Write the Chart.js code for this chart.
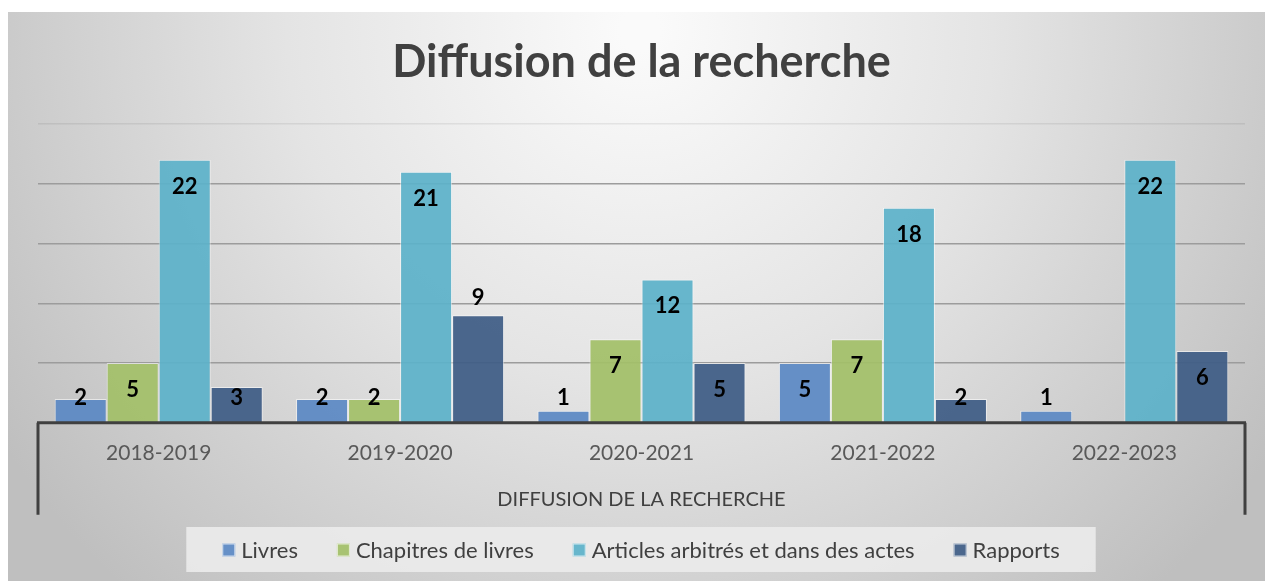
<!DOCTYPE html>
<html>
<head>
<meta charset="utf-8">
<script src="https://cdn.jsdelivr.net/npm/chart.js@4/dist/chart.umd.min.js"></script>
<style>
  html, body { margin: 0; padding: 0; background: #fff; }
  #wrap { width: 1265px; height: 581px; }
</style>
</head>
<body>
<div id="wrap"><canvas id="chart" width="1265" height="581"></canvas></div>
<script>
const years = ['2018-2019', '2019-2020', '2020-2021', '2021-2022', '2022-2023'];
const livres = [2, 2, 1, 5, 1];
const chapitres = [5, 2, 7, 7, 0];
const articles = [22, 21, 12, 18, 22];
const rapports = [3, 9, 5, 2, 6];
const seriesNames = ['Livres', 'Chapitres de livres', 'Articles arbitrés et dans des actes', 'Rapports'];
const colors = ['rgba(91,137,196,0.93)', 'rgba(163,192,104,0.93)', 'rgba(92,177,201,0.93)', 'rgba(62,92,133,0.93)'];

const FONT = 'Lato, "Open Sans", sans-serif';

// fond gris en dégradé + cadre
const bgPlugin = {
    id: 'bg',
    beforeDraw(chart) {
        const ctx = chart.ctx;
        ctx.save();
        ctx.fillStyle = '#fff';
        ctx.fillRect(0, 0, chart.width, chart.height);
        const g = ctx.createRadialGradient(640, 30, 20, 640, 30, 760);
        g.addColorStop(0, '#fafafa');
        g.addColorStop(0.45, '#e4e4e4');
        g.addColorStop(1, '#bfbfbf');
        ctx.fillStyle = g;
        ctx.fillRect(8, 12, chart.width - 8, chart.height - 12);
        ctx.restore();
    }
};

// axe des catégories à deux niveaux
const axisPlugin = {
    id: 'axisFrame',
    afterDatasetsDraw(chart) {
        const ctx = chart.ctx;
        const a = chart.chartArea;
        ctx.save();
        ctx.strokeStyle = '#404040';
        ctx.lineWidth = 3;
        ctx.beginPath();
        ctx.moveTo(a.left - 1, a.bottom);
        ctx.lineTo(a.right + 1, a.bottom);
        ctx.moveTo(a.left, a.bottom);
        ctx.lineTo(a.left, a.bottom + 92);
        ctx.moveTo(a.right, a.bottom);
        ctx.lineTo(a.right, a.bottom + 92);
        ctx.stroke();
        ctx.restore();
    }
};

// étiquettes de valeurs
const labelPlugin = {
    id: 'valLabels',
    afterDatasetsDraw(chart) {
        const ctx = chart.ctx;
        ctx.save();
        ctx.font = 'bold 22px ' + FONT;
        ctx.fillStyle = '#000';
        ctx.textAlign = 'center';
        ctx.textBaseline = 'middle';
        chart.data.datasets.forEach((ds, i) => {
            const meta = chart.getDatasetMeta(i);
            meta.data.forEach((bar, j) => {
                const v = ds.data[j];
                if (!v) return;
                let y;
                if (ds.labelOutside && ds.labelOutside[j]) {
                    y = bar.y - 17;
                } else {
                    y = Math.min(bar.y + 27, bar.base - 24);
                }
                ctx.fillText(String(v), bar.x, y);
            });
        });
        ctx.restore();
    }
};

// légende dans un cadre clair
const legendPlugin = {
    id: 'boxLegend',
    afterDraw(chart) {
        const ctx = chart.ctx;
        ctx.save();
        ctx.font = '22px ' + FONT;
        const box = 13, gapText = 6, gapItem = 39;
        const items = chart.data.datasets.map(ds => ({
            text: ds.label, color: ds.backgroundColor, w: ctx.measureText(ds.label).width
        }));
        let total = 0;
        items.forEach((it, i) => { total += box + gapText + it.w + (i < items.length - 1 ? gapItem : 0); });
        const cx = 641, cy = 550;
        const bx = cx - total / 2 - 36;
        ctx.fillStyle = 'rgba(235,235,235,0.9)';
        ctx.fillRect(bx, 527, total + 72, 45);
        let x = cx - total / 2;
        ctx.textBaseline = 'middle';
        items.forEach(it => {
            ctx.fillStyle = it.color;
            ctx.fillRect(x, cy - box / 2, box, box);
            ctx.strokeStyle = 'rgba(255,255,255,0.7)';
            ctx.lineWidth = 1;
            ctx.strokeRect(x + 0.5, cy - box / 2 + 0.5, box - 1, box - 1);
            x += box + gapText;
            ctx.fillStyle = '#404040';
            ctx.fillText(it.text, x, cy + 1);
            x += it.w + gapItem;
        });
        ctx.restore();
    }
};

const seriesData = [livres, chapitres, articles, rapports];

new Chart(document.getElementById('chart'), {
    type: 'bar',
    data: {
        labels: years,
        datasets: seriesData.map((d, i) => ({
            label: seriesNames[i],
            data: d,
            backgroundColor: colors[i],
            borderColor: 'rgba(255,255,255,0.55)',
            borderWidth: 1,
            categoryPercentage: 0.862,
            barPercentage: 1,
            labelOutside: i === 3 ? [false, true, false, false, false] : null
        }))
    },
    options: {
        responsive: false,
        animation: false,
        layout: { padding: { left: 38, right: 20, bottom: 69 } },
        plugins: {
            legend: { display: false },
            tooltip: { enabled: false },
            title: {
                display: true,
                text: 'Diffusion de la recherche',
                color: '#404040',
                font: { family: FONT, size: 45, weight: 'bold' },
                padding: { top: 35, bottom: 35 }
            }
        },
        scales: {
            x: {
                grid: { display: false, drawTicks: false },
                border: { display: false },
                ticks: { color: '#595959', font: { family: FONT, size: 21 }, padding: 18 },
                title: {
                    display: true,
                    text: 'DIFFUSION DE LA RECHERCHE',
                    color: '#404040',
                    font: { family: FONT, size: 20 },
                    padding: { top: 4, bottom: 0 }
                }
            },
            y: {
                min: 0,
                max: 25,
                ticks: { display: false, stepSize: 5 },
                border: { display: false },
                grid: {
                    drawTicks: false,
                    lineWidth: 1.5,
                    color: ctx => ctx.tick.value === 25 ? 'rgba(0,0,0,0.07)' : (ctx.tick.value === 0 ? 'rgba(0,0,0,0)' : '#9c9c9c')
                }
            }
        }
    },
    plugins: [bgPlugin, axisPlugin, labelPlugin, legendPlugin]
});
</script>
</body>
</html>
